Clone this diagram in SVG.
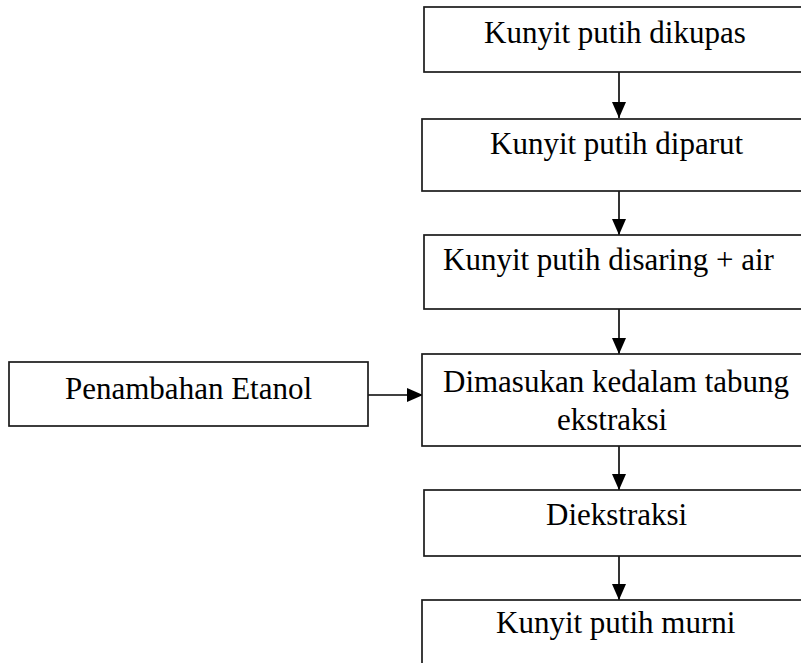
<svg xmlns="http://www.w3.org/2000/svg" width="801" height="663" viewBox="0 0 801 663">
  <style>
    .box { fill: #ffffff; stroke: #1a1a1a; stroke-width: 1.7; }
    .lbl { font-family: "Liberation Serif", "Times New Roman", serif; font-size: 31px; fill: #000000; }
    .conn { stroke: #000000; stroke-width: 1.6; fill: none; }
  </style>
  <defs>
    <marker id="headBig" viewBox="0 0 16 14" refX="16" refY="7" markerWidth="16" markerHeight="14" markerUnits="userSpaceOnUse" orient="auto">
      <path d="M0,0 L16,7 L0,14 Z" fill="#000000"/>
    </marker>
  </defs>

  <rect width="801" height="663" fill="#ffffff"/>

  <g id="connectors">
    <line class="conn" x1="619" y1="72" x2="619" y2="118" marker-end="url(#headBig)"/>
    <line class="conn" x1="619" y1="191" x2="619" y2="235" marker-end="url(#headBig)"/>
    <line class="conn" x1="619" y1="309" x2="619" y2="354" marker-end="url(#headBig)"/>
    <line class="conn" x1="368" y1="395" x2="423" y2="395" marker-end="url(#headBig)"/>
    <line class="conn" x1="619" y1="446" x2="619" y2="490" marker-end="url(#headBig)"/>
    <line class="conn" x1="619" y1="556" x2="619" y2="600" marker-end="url(#headBig)"/>
  </g>

  <g id="node-dikupas">
    <rect class="box" x="424" y="7" width="400" height="65"/>
    <text class="lbl" x="484" y="43">Kunyit putih dikupas</text>
  </g>

  <g id="node-diparut">
    <rect class="box" x="422" y="119" width="400" height="72"/>
    <text class="lbl" x="490" y="154">Kunyit putih diparut</text>
  </g>

  <g id="node-disaring">
    <rect class="box" x="424" y="235" width="400" height="74"/>
    <text class="lbl" x="443" y="270">Kunyit putih disaring + air</text>
  </g>

  <g id="node-etanol">
    <rect class="box" x="9" y="362" width="359" height="64"/>
    <text class="lbl" x="65" y="399">Penambahan Etanol</text>
  </g>

  <g id="node-tabung">
    <rect class="box" x="422" y="354" width="400" height="92"/>
    <text class="lbl" x="443" y="392">Dimasukan kedalam tabung</text>
    <text class="lbl" x="557" y="430">ekstraksi</text>
  </g>

  <g id="node-diekstraksi">
    <rect class="box" x="424" y="490" width="400" height="66"/>
    <text class="lbl" x="546" y="525">Diekstraksi</text>
  </g>

  <g id="node-murni">
    <rect class="box" x="422" y="600" width="400" height="80"/>
    <text class="lbl" x="496" y="633">Kunyit putih murni</text>
  </g>
</svg>
